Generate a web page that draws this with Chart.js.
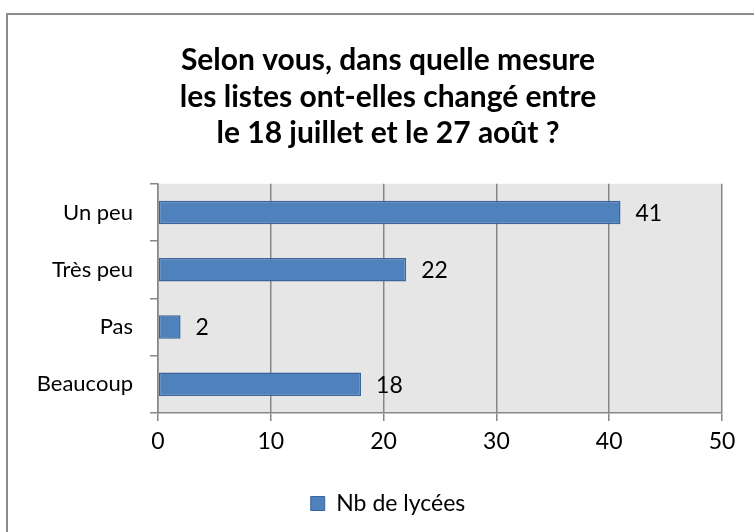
<!DOCTYPE html>
<html>
<head>
<meta charset="utf-8">
<script src="https://cdn.jsdelivr.net/npm/chart.js@4"></script>
<style>
  html, body { margin: 0; padding: 0; background: #fff; }
  #wrap { width: 754px; height: 532px; position: relative; }
</style>
</head>
<body>
<div id="wrap"><canvas id="c"></canvas></div>
<script>
// données
const titleLines = ["Selon vous, dans quelle mesure", "les listes ont-elles changé entre", "le 18 juillet et le 27 août ?"];
const categories = ["Un peu", "Très peu", "Pas", "Beaucoup"];
const nbLycees = [41, 22, 2, 18];
const seriesLabel = "Nb de lycées";
const xTicks = [0, 10, 20, 30, 40, 50];

const FONT = "Lato, 'Open Sans', sans-serif";
const GRID = "#878787";

// cadre + fond gris de la zone de tracé
const backdrop = {
  id: "backdrop",
  // titre et légende centrés sur le cadre, pas sur la zone de tracé
  afterLayout(chart) {
    if (chart.titleBlock) chart.titleBlock.left = 54;
    if (chart.legend) chart.legend.left = 54;
  },
  beforeDraw(chart) {
    const { ctx, chartArea: a } = chart;
    ctx.save();
    ctx.fillStyle = "#e6e6e6";
    ctx.fillRect(a.left, a.top, a.right - a.left, a.bottom - a.top);
    ctx.strokeStyle = "#8c8c8c";
    ctx.lineWidth = 2;
    ctx.strokeRect(7, 14, 900, 700);
    ctx.restore();
  },
};

// étiquettes de valeur à droite des barres
const valueLabels = {
  id: "valueLabels",
  afterDatasetsDraw(chart) {
    const { ctx } = chart;
    const meta = chart.getDatasetMeta(0);
    ctx.save();
    ctx.font = "23px " + FONT;
    ctx.fillStyle = "#000";
    ctx.textAlign = "left";
    ctx.textBaseline = "middle";
    meta.data.forEach((bar, i) => {
      ctx.fillText(String(nbLycees[i]), bar.x + 15, bar.y + 1);
    });
    ctx.restore();
  },
};

new Chart(document.getElementById("c"), {
  type: "bar",
  data: {
    labels: categories,
    datasets: [{
      label: seriesLabel,
      data: nbLycees,
      backgroundColor: "#4f81bd",
      borderColor: "#3b659a",
      borderWidth: 1.5,
      borderSkipped: false,
      barPercentage: 0.41,
      categoryPercentage: 1,
    }],
  },
  options: {
    indexAxis: "y",
    responsive: true,
    maintainAspectRatio: false,
    animation: false,
    layout: { padding: { left: 0, right: 32, top: 0, bottom: 7 } },
    plugins: {
      title: {
        display: true,
        text: titleLines,
        color: "#000",
        font: { family: FONT, size: 30, weight: "bold", lineHeight: 1.22 },
        padding: { top: 42, bottom: 32 },
      },
      legend: {
        position: "bottom",
        labels: {
          color: "#000",
          font: { family: FONT, size: 23 },
          boxWidth: 14,
          boxHeight: 14,
          padding: 10,
          generateLabels: () => [{
            text: seriesLabel,
            fillStyle: "#4f81bd",
            strokeStyle: "#3b659a",
            lineWidth: 1,
            datasetIndex: 0,
          }],
        },
      },
      tooltip: { enabled: false },
    },
    scales: {
      x: {
        min: 0,
        max: 50,
        afterBuildTicks: (s) => { s.ticks = xTicks.map(v => ({ value: v })); },
        afterFit: (s) => { s.height = 69; },
        ticks: { color: "#000", font: { family: FONT, size: 23 }, padding: 7 },
        grid: { color: GRID, tickLength: 8, lineWidth: 1.5 },
        border: { color: GRID, width: 1.5 },
      },
      y: {
        afterFit: (s) => { s.width = 158; },
        ticks: { color: "#000", font: { family: FONT, size: 22 }, padding: 17 },
        grid: { drawOnChartArea: false, offset: true, color: GRID, tickLength: 8, lineWidth: 1.5 },
        border: { color: GRID, width: 1.5 },
      },
    },
  },
  plugins: [backdrop, valueLabels],
});
</script>
</body>
</html>
